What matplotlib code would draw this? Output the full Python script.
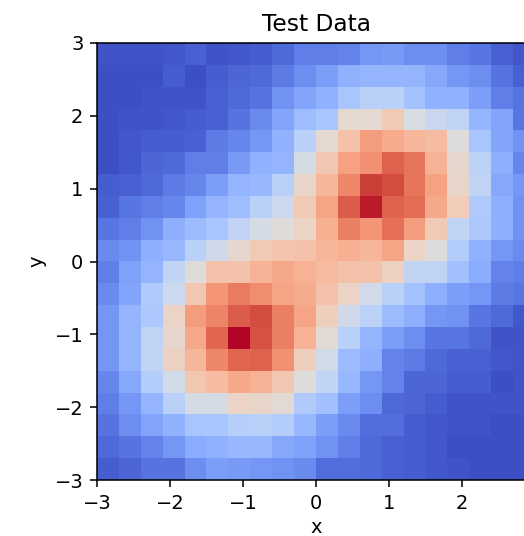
#!/usr/bin/env python3
"""Test data heatmap: two overlapping bumps on a 20x20 grid."""

import matplotlib
matplotlib.use("Agg")
import matplotlib.pyplot as plt
import numpy as np

# cell values, listed from the top row (y=3) down to y=-3
rows_top = [
    [.02, .02, .02, .03, .05, .02, .03, .04, .07, .12, .12, .13, .18, .19, .16, .16, .12, .10, .05, .03],
    [.01, .01, .01, .04, .01, .04, .06, .07, .11, .16, .20, .26, .27, .27, .27, .23, .18, .16, .09, .05],
    [.01, .01, .02, .02, .02, .05, .07, .09, .17, .22, .26, .33, .38, .38, .32, .26, .26, .20, .12, .09],
    [.01, .02, .02, .03, .04, .05, .09, .15, .22, .30, .33, .53, .53, .60, .48, .43, .40, .27, .22, .10],
    [.01, .03, .04, .04, .05, .11, .14, .18, .26, .38, .53, .63, .74, .70, .67, .65, .50, .33, .22, .17],
    [.01, .03, .06, .07, .12, .12, .19, .26, .27, .47, .61, .73, .77, .87, .83, .68, .54, .39, .25, .14],
    [.04, .05, .07, .11, .14, .20, .27, .28, .38, .55, .67, .79, .93, .91, .83, .73, .55, .40, .23, .18],
    [.05, .10, .12, .14, .21, .27, .30, .38, .44, .60, .72, .88, .98, .87, .85, .71, .59, .35, .25, .17],
    [.10, .12, .17, .25, .29, .33, .40, .47, .51, .56, .69, .81, .76, .84, .74, .60, .41, .34, .25, .17],
    [.15, .17, .25, .28, .38, .45, .54, .60, .62, .63, .67, .69, .67, .72, .56, .50, .36, .26, .18, .15],
]
rows_bottom = [
    [.12, .21, .27, .41, .50, .63, .63, .68, .71, .68, .66, .63, .63, .57, .41, .40, .31, .24, .13, .12],
    [.15, .22, .35, .44, .61, .76, .82, .78, .72, .70, .63, .56, .46, .38, .32, .25, .20, .18, .11, .10],
    [.18, .27, .34, .56, .74, .80, .88, .91, .81, .72, .58, .45, .39, .29, .25, .18, .17, .10, .07, .03],
    [.18, .27, .40, .54, .71, .86, 1.0, .90, .81, .68, .52, .38, .27, .20, .16, .10, .10, .07, .02, .02],
    [.18, .27, .41, .57, .67, .79, .86, .87, .77, .58, .46, .29, .25, .13, .11, .07, .05, .05, .03, .02],
    [.14, .23, .36, .46, .61, .65, .71, .68, .61, .50, .41, .28, .18, .13, .06, .06, .04, .04, .01, .02],
    [.12, .18, .27, .38, .47, .47, .56, .55, .52, .35, .31, .20, .16, .07, .06, .04, .02, .02, .02, .02],
    [.09, .16, .22, .26, .33, .33, .37, .38, .36, .28, .20, .15, .08, .08, .04, .03, .02, .02, .01, .01],
    [.07, .09, .13, .18, .24, .26, .28, .28, .23, .21, .17, .12, .07, .05, .04, .03, .01, .01, .01, .01],
    [.04, .06, .09, .09, .16, .20, .19, .18, .17, .15, .08, .08, .07, .05, .04, .03, .02, .01, .01, .01],
]
xticks = [-3, -2, -1, 0, 1, 2]  # the tick at 3 falls outside the picture
yticks = [-3, -2, -1, 0, 1, 2, 3]

W, H = 524, 536
DPI = 140  # the reference is an enlarged default figure, so text and lines scale up
fig = plt.figure(figsize=(W / DPI, H / DPI), dpi=DPI)
# the right edge of the axes runs past the figure, as in the reference
ax = fig.add_axes([97 / W, (H - 480) / H, 438 / W, 437 / H])

ax.imshow(np.array(rows_top + rows_bottom), cmap="coolwarm", vmin=0, vmax=1,
          extent=[-3, 3, -3, 3], aspect="auto", interpolation="nearest")
ax.set_xticks(xticks)
ax.set_yticks(yticks)
ax.set_xlim(-3, 3)
ax.set_xlabel("x", labelpad=2.8)
ax.set_ylabel("y")
ax.set_title("Test Data")

fig.savefig("out.png", dpi=DPI)
